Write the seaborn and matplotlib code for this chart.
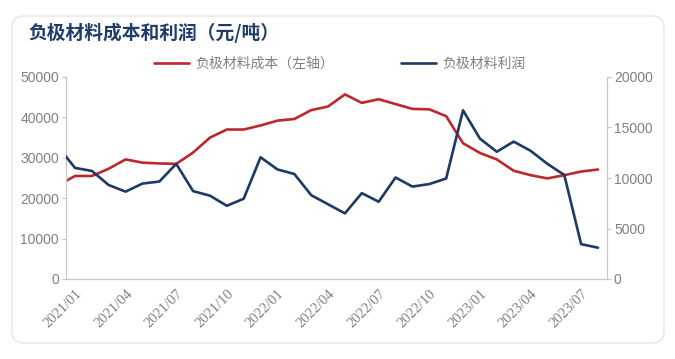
import matplotlib
matplotlib.use("Agg")
import matplotlib.pyplot as plt
from matplotlib.patches import FancyBboxPatch
from matplotlib.lines import Line2D
from matplotlib.transforms import IdentityTransform
import seaborn as sns
import pandas as pd

# ---- data ----
months = ["2020/12",
          "2021/01", "2021/02", "2021/03", "2021/04", "2021/05", "2021/06",
          "2021/07", "2021/08", "2021/09", "2021/10", "2021/11", "2021/12",
          "2022/01", "2022/02", "2022/03", "2022/04", "2022/05", "2022/06",
          "2022/07", "2022/08", "2022/09", "2022/10", "2022/11", "2022/12",
          "2023/01", "2023/02", "2023/03", "2023/04", "2023/05", "2023/06",
          "2023/07", "2023/08"]
cost = [23200,
        25500, 25500, 27300, 29600, 28800, 28600,
        28500, 31300, 35000, 37000, 37000, 38000,
        39200, 39600, 41800, 42700, 45700, 43600,
        44500, 43300, 42100, 42000, 40300, 33600,
        31200, 29600, 26800, 25700, 24900, 25700,
        26600, 27100]
profit = [13100,
          11000, 10700, 9300, 8650, 9450, 9650,
          11400, 8700, 8250, 7250, 7950, 12050,
          10850, 10400, 8300, 7400, 6500, 8500,
          7650, 10050, 9150, 9400, 9950, 16700,
          13900, 12600, 13600, 12700, 11400, 10300,
          3450, 3100]
tick_labels = ["2021/01", "2021/04", "2021/07", "2021/10", "2022/01", "2022/04",
               "2022/07", "2022/10", "2023/01", "2023/04", "2023/07"]
title = "负极材料成本和利润（元/吨）"
cost_name = "负极材料成本（左轴）"
profit_name = "负极材料利润"

df = pd.DataFrame({"pos": range(len(months)), "month": months,
                   "cost": cost, "profit": profit})

sns.set_style("white")
plt.rcParams["font.family"] = ["Noto Sans CJK SC", "DejaVu Sans"]

RED = "#C0262D"
BLUE = "#1C3A63"
GRAY = "#808080"
AXC = "#C8C8C8"

fig = plt.figure(figsize=(6.75, 3.59), dpi=100)
fig.patch.set_facecolor("white")

# card border
card = FancyBboxPatch((12, 16), 652, 327, boxstyle="round,pad=0,rounding_size=12",
                      transform=IdentityTransform(), facecolor="none",
                      edgecolor="#E6E6E6", linewidth=1.0, zorder=-5)
fig.patches.append(card)

ax = fig.add_axes([66 / 675, 1 - 279 / 359, (607 - 66) / 675, (279 - 77) / 359])
ax.set_facecolor("none")
ax2 = ax.twinx()
ax2.set_facecolor("none")

sns.lineplot(data=df, x="pos", y="cost", ax=ax, color=RED, linewidth=1.9)
sns.lineplot(data=df, x="pos", y="profit", ax=ax2, color=BLUE, linewidth=1.9)

ax.set_xlim(0.467, 32.533)
ax.set_ylim(0, 50000)
ax2.set_ylim(0, 20000)
ax.set_yticks([0, 10000, 20000, 30000, 40000, 50000])
ax2.set_yticks([0, 5000, 10000, 15000, 20000])

tick_pos = [months.index(t) for t in tick_labels]
ax.set_xticks(tick_pos)
ax.set_xticklabels(tick_labels, rotation=45, ha="right", rotation_mode="anchor",
                   fontsize=10.5, color=GRAY, family=["Liberation Serif", "DejaVu Serif"])
for a in (ax, ax2):
    a.set_xlabel("")
    a.set_ylabel("")
    a.grid(False)
    for s in a.spines.values():
        s.set_color(AXC)
        s.set_linewidth(0.9)
    a.spines["top"].set_visible(False)

ax.spines["right"].set_visible(False)
ax2.spines["left"].set_visible(False)
ax2.spines["bottom"].set_visible(False)

ax.tick_params(axis="x", length=0, pad=6)
ax.tick_params(axis="y", length=3, color=AXC, width=0.8, labelsize=10, labelcolor=GRAY, pad=2)
ax2.tick_params(axis="y", length=3, color=AXC, width=0.8, labelsize=10, labelcolor=GRAY, pad=2)
for lab in ax.get_yticklabels() + ax2.get_yticklabels():
    lab.set_family(["Liberation Sans", "DejaVu Sans"])

# title
fig.text(28 / 675, 1 - 33 / 359, title, fontsize=13.5, fontweight="bold",
         color="#1F3C6B", ha="left", va="center")

# legend
handles = [Line2D([], [], color=RED, linewidth=1.9),
           Line2D([], [], color=BLUE, linewidth=1.9)]
fig.legend(handles, [cost_name, profit_name], loc="center",
           bbox_to_anchor=(340 / 675, 1 - 64 / 359), ncol=2, frameon=False,
           fontsize=10, labelcolor=GRAY, handlelength=2.5, handletextpad=0.5,
           columnspacing=4.8)

fig.savefig("out.png", dpi=100, facecolor="white")
